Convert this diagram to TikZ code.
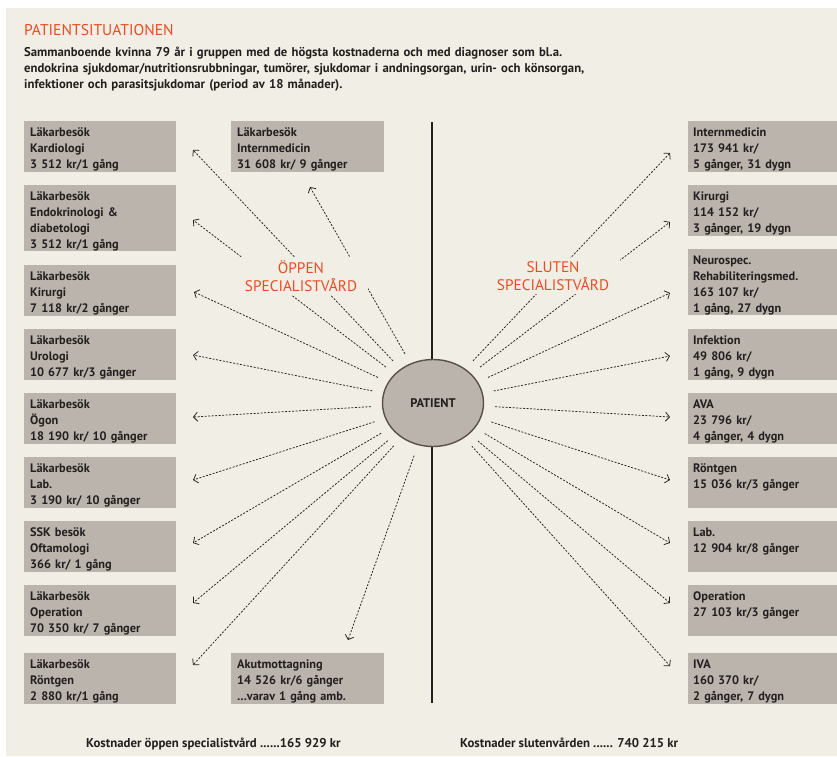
\documentclass[tikz,border=0pt]{standalone}
\usepackage{fontspec}
\setmainfont{PT Sans}
\usetikzlibrary{arrows.meta}
\usetikzlibrary{shapes.geometric}
\usetikzlibrary{positioning}

\definecolor{paper}{HTML}{F1EFE5}
\definecolor{boxgray}{HTML}{BBB4AD}
\definecolor{signal}{HTML}{EE4A22}
\definecolor{ink}{HTML}{231F20}
\definecolor{rim}{HTML}{5B5048}

\tikzstyle{cell} = [fill=boxgray, anchor=north west, align=left, text=ink,
	inner xsep=6pt, inner ysep=3pt, text height=12pt, text depth=33pt,
	font=\fontsize{12.3}{16}\selectfont\bfseries]
\tikzstyle{tallcell} = [cell, text depth=48pt]
\tikzstyle{link} = [ink, line width=0.75pt, dash pattern=on 2pt off 1.5pt,
	-{Straight Barb[length=4pt,width=9pt]}, shorten <=11pt]

\begin{document}
\begin{tikzpicture}[x=1pt,y=-1pt,
		vard/.style = {fill=paper, text=signal, align=center, inner xsep=11pt,
			inner ysep=3pt, font=\fontsize{15.3}{18}\selectfont}]

		\clip (0,0) rectangle (837,756);
		\fill[paper] (6,8) rectangle (837,756);

		% Heading
		\node[anchor=base west, text=signal, inner sep=0pt,
			font=\fontsize{15.6}{20}\selectfont] (title) at (24,35) {PATIENTSITUATIONEN};
		\node[anchor=base west, text=ink, inner sep=0pt, text width=750pt, align=left,
			font=\fontsize{12.7}{16}\selectfont\bfseries] (intro) at (24,56)
			{Sammanboende kvinna 79 år i gruppen med de högsta kostnaderna och med diagnoser som bl.a.\\
			endokrina sjukdomar/nutritionsrubbningar, tumörer, sjukdomar i andningsorgan, urin- och könsorgan,\\
			infektioner och parasitsjukdomar (period av 18 månader).};

		% Divider
		\coordinate (axistop) at (432,122);
		\coordinate (axisbot) at (432,703);
		\draw[ink, line width=1.4pt] (axistop) -- (axisbot);

		% Patient
		\node[ellipse, fill=boxgray, draw=rim, line width=1.4pt, minimum width=101pt,
			minimum height=87pt, text=ink, font=\fontsize{12.5}{14}\selectfont\bfseries]
			(patient) at (433,403) {PATIENT};

		% Open care
		\node[cell, text width=140pt] (okard) at (24,121) {Läkarbesök\\Kardiologi\\3 512 kr/1 gång};
		\node[tallcell, text width=140pt] (oendo) at (24,185) {Läkarbesök\\Endokrinologi \&\\diabetologi\\3 512 kr/1 gång};
		\node[cell, text width=140pt] (okir) at (24,265) {Läkarbesök\\Kirurgi\\7 118 kr/2 gånger};
		\node[cell, text width=140pt] (ouro) at (24,329) {Läkarbesök\\Urologi\\10 677 kr/3 gånger};
		\node[cell, text width=140pt] (oogon) at (24,393) {Läkarbesök\\Ögon\\18 190 kr/ 10 gånger};
		\node[cell, text width=140pt] (olab) at (24,457) {Läkarbesök\\Lab.\\3 190 kr/ 10 gånger};
		\node[cell, text width=140pt] (ossk) at (24,521) {SSK besök\\Oftamologi\\366 kr/ 1 gång};
		\node[cell, text width=140pt] (oop) at (24,585) {Läkarbesök\\Operation\\70 350 kr/ 7 gånger};
		\node[cell, text width=140pt] (ornt) at (24,653) {Läkarbesök\\Röntgen\\2 880 kr/1 gång};
		\node[cell, text width=141pt] (oint) at (231,121) {Läkarbesök\\Internmedicin\\31 608 kr/ 9 gånger};
		\node[cell, text width=141pt] (oakut) at (231,653) {Akutmottagning\\14 526 kr/6 gånger\\…varav 1 gång amb.};

		% Closed care
		\node[cell, text width=150pt, inner xsep=5pt] (sint) at (688,121) {Internmedicin\\173 941 kr/\\5 gånger, 31 dygn};
		\node[cell, text width=150pt, inner xsep=5pt] (skir) at (688,185) {Kirurgi\\114 152 kr/\\3 gånger, 19 dygn};
		\node[tallcell, text width=150pt, inner xsep=5pt] (sneuro) at (688,249) {Neurospec.\\Rehabiliteringsmed.\\163 107 kr/\\1 gång, 27 dygn};
		\node[cell, text width=150pt, inner xsep=5pt] (sinf) at (688,329) {Infektion\\49 806 kr/\\1 gång, 9 dygn};
		\node[cell, text width=150pt, inner xsep=5pt] (sava) at (688,393) {AVA\\23 796 kr/\\4 gånger, 4 dygn};
		\node[cell, text width=150pt, inner xsep=5pt] (srnt) at (688,457) {Röntgen\\15 036 kr/3 gånger};
		\node[cell, text width=150pt, inner xsep=5pt] (slab) at (688,521) {Lab.\\12 904 kr/8 gånger};
		\node[cell, text width=150pt, inner xsep=5pt] (sop) at (688,585) {Operation\\27 103 kr/3 gånger};
		\node[cell, text width=150pt, inner xsep=5pt] (siva) at (688,653) {IVA\\160 370 kr/\\2 gånger, 7 dygn};

		% Arrow ends
		\coordinate (tokard) at (193,150);
		\coordinate (toendo) at (193,220);
		\coordinate (tokir) at (194,292);
		\coordinate (touro) at (193,355);
		\coordinate (toogon) at (193,417);
		\coordinate (tolab) at (193,480);
		\coordinate (tossk) at (193,543);
		\coordinate (toop) at (193,603);
		\coordinate (tornt) at (193,665);
		\coordinate (toint) at (310,187);
		\coordinate (toakut) at (348,640);
		\coordinate (tsint) at (670,153);
		\coordinate (tskir) at (670,222);
		\coordinate (tsneuro) at (670,293);
		\coordinate (tsinf) at (670,356);
		\coordinate (tsava) at (670,417);
		\coordinate (tsrnt) at (670,480);
		\coordinate (tslab) at (670,543);
		\coordinate (tsop) at (670,603);
		\coordinate (tsiva) at (670,666);

		\foreach \t in {tokard,toendo,tokir,touro,toogon,tolab,tossk,toop,tornt,toint,toakut,
			tsint,tskir,tsneuro,tsinf,tsava,tsrnt,tslab,tsop,tsiva}
			\draw[link] (patient) -- (\t);

		% Care headings
		\node[vard] (oppen) at (301,276) {ÖPPEN\\SPECIALISTVÅRD};
		\node[vard] (sluten) at (553,276) {SLUTEN\\SPECIALISTVÅRD};

		% Totals
		\node[anchor=base west, text=ink, inner sep=0pt, font=\fontsize{12.8}{14}\selectfont\bfseries]
			(sumoppen) at (86,747) {Kostnader öppen specialistvård ......165 929 kr};
		\node[anchor=base west, text=ink, inner sep=0pt, font=\fontsize{12.8}{14}\selectfont\bfseries]
			(sumsluten) at (460,747) {Kostnader slutenvården ...... 740 215 kr};
\end{tikzpicture}
\end{document}
